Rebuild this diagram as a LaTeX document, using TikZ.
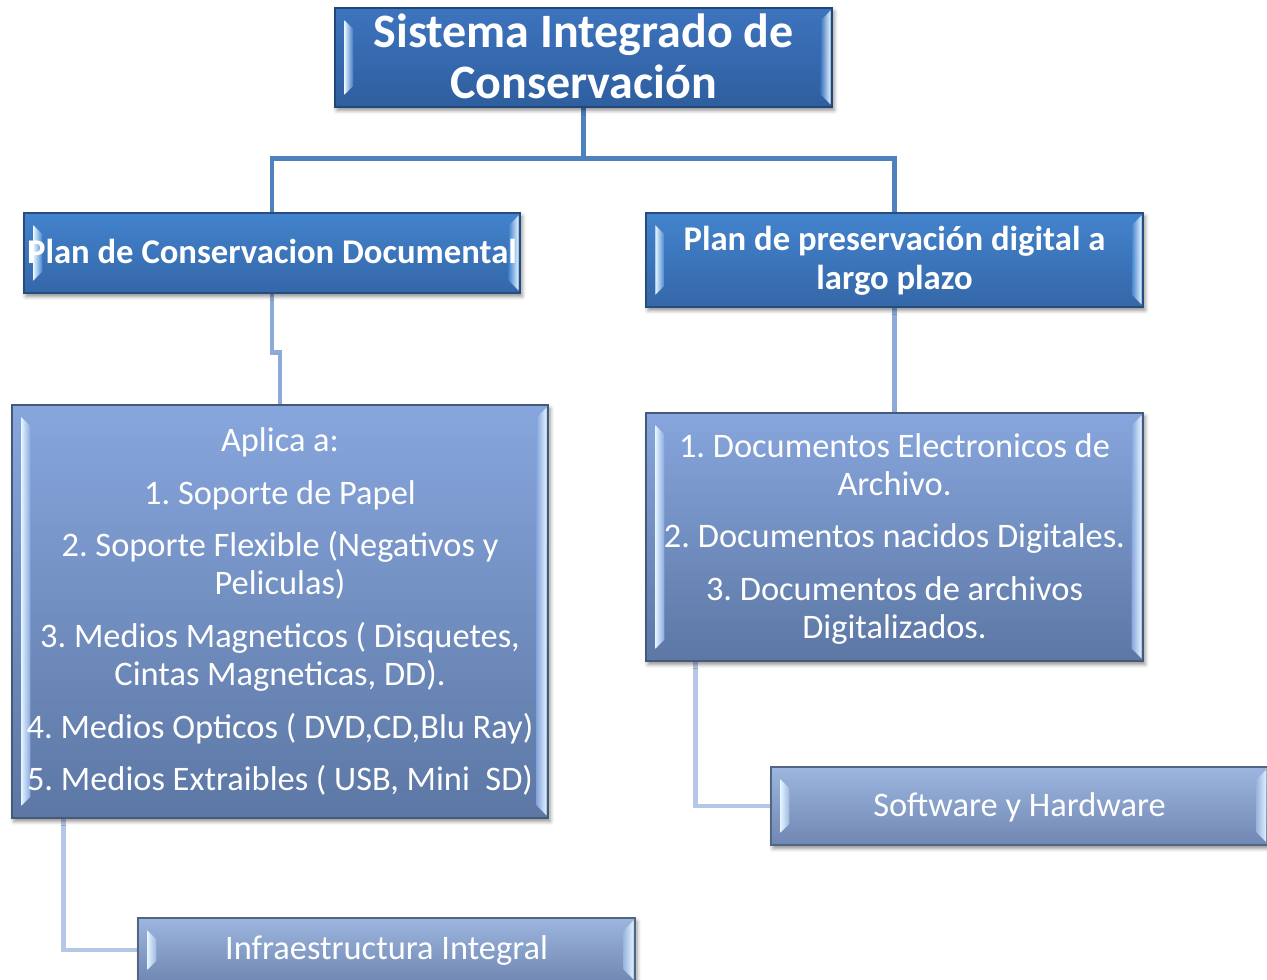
\documentclass[tikz,border=0pt]{standalone}
\usepackage{fontspec}
\setmainfont{Carlito}
\frenchspacing
\usetikzlibrary{shadows.blur,calc,fit,backgrounds}
\definecolor{topA}{HTML}{3D74BE}\definecolor{topB}{HTML}{2E5E9E}
\definecolor{lvA}{HTML}{4383CD}\definecolor{lvB}{HTML}{3467A8}
\definecolor{lwA}{HTML}{87A6DD}\definecolor{lwB}{HTML}{5C77A4}
\definecolor{lzA}{HTML}{9DB6DF}\definecolor{lzB}{HTML}{6F87B2}
\definecolor{hiL}{HTML}{E2F3FF}
\definecolor{cA}{HTML}{4F81BD}\definecolor{cB}{HTML}{8EAAD8}\definecolor{cC}{HTML}{B4C7E7}
\tikzset{
  bevbox/.style 2 args={rectangle, inner sep=0pt, draw=#2!75!black, line width=0.8pt,
    top color=#1, bottom color=#2,
    blur shadow={shadow xshift=1.5pt, shadow yshift=-2.5pt, shadow blur radius=3pt, shadow opacity=45}},
  conn/.style={draw=#1, line width=3.2pt},
  bigtxt/.style={text=white, align=center, inner sep=0pt, font=\fontsize{36}{38.3}\selectfont\bfseries},
  midtxt/.style={text=white, align=center, inner sep=0pt, font=\fontsize{26}{29.3}\selectfont\bfseries},
  smtxt/.style={text=white, align=center, inner sep=0pt, font=\fontsize{25.8}{28.5}\selectfont}
}
\newcommand{\bev}[2]{%
  \shade[left color=hiL, right color=#2] ($(#1.north west)+(10,13)$) -- ($(#1.north west)+(19,22)$) -- ($(#1.south west)+(19,-22)$) -- ($(#1.south west)+(10,-13)$) -- cycle;
  \shade[left color=#2, right color=hiL] ($(#1.north east)+(-12,13)$) -- ($(#1.north east)+(-2,3)$) -- ($(#1.south east)+(-2,-3)$) -- ($(#1.south east)+(-12,-13)$) -- cycle;
}
\begin{document}
\begin{tikzpicture}[x=0.75pt,y=-0.75pt]
\useasboundingbox (0,0) rectangle (1267,980);
% boxes
\node[bevbox={topA}{topB}, fit={(335,8)(832,107)}] (top) {};
\node[bevbox={lvA}{lvB}, fit={(24,213)(520,293)}] (l1a) {};
\node[bevbox={lvA}{lvB}, fit={(646,213)(1143,307)}] (l1b) {};
\node[bevbox={lwA}{lwB}, fit={(12,405)(548,818)}] (l2a) {};
\node[bevbox={lwA}{lwB}, fit={(646,413)(1143,661)}] (l2b) {};
\node[bevbox={lzA}{lzB}, fit={(138,918)(635,982)}] (infra) {};
\node[bevbox={lzA}{lzB}, fit={(771,767)(1268,845)}] (soft) {};
\bev{top}{topA}\bev{l1a}{lvA}\bev{l1b}{lvA}\bev{l2a}{lwA}\bev{l2b}{lwA}\bev{infra}{lzA}\bev{soft}{lzA}
% texts
\node[bigtxt] (ttop) at ($(top)+(0,-1)$) {Sistema Integrado de\\Conservación};
\node[midtxt] (tl1a) at ($(l1a)+(0,-2)$) {Plan de Conservacion Documental};
\node[midtxt] (tl1b) at ($(l1b)+(0,1)$) {Plan de preservación digital a\\largo plazo};
\node[smtxt] (tl2a) at (l2a) {Aplica a:\\[11pt]1. Soporte de Papel\\[11pt]2. Soporte Flexible (Negativos y\\Peliculas)\\[11pt]3. Medios Magneticos ( Disquetes,\\Cintas Magneticas, DD).\\[11pt]4. Medios Opticos ( DVD,CD,Blu Ray)\\[11pt]5. Medios Extraibles ( USB, Mini~~SD)};
\node[smtxt] (tl2b) at ($(l2b)+(0,2)$) {1. Documentos Electronicos de\\Archivo.\\[11pt]2. Documentos nacidos Digitales.\\[11pt]3. Documentos de archivos\\Digitalizados.};
\node[smtxt] (tinfra) at ($(infra)+(0,1)$) {Infraestructura Integral};
\node[smtxt] (tsoft) at ($(soft)+(0,1)$) {Software y Hardware};
% connectors
\begin{scope}[on background layer]
\coordinate (j) at ($(top.south)+(0,51)$);
\draw[conn=cA] (top.south) -- (j) -| (l1a.north);
\draw[conn=cA] (j) -| (l1b.north);
\draw[conn=cB] (l1a.south) -- ++(0,59) -| (l2a.north);
\draw[conn=cB] (l1b.south) -- (l2b.north);
\draw[conn=cC] ($(l2a.south west)+(52,0)$) |- (infra.west);
\draw[conn=cC] ($(l2b.south west)+(50,0)$) |- (soft.west);
\end{scope}
\end{tikzpicture}
\end{document}
